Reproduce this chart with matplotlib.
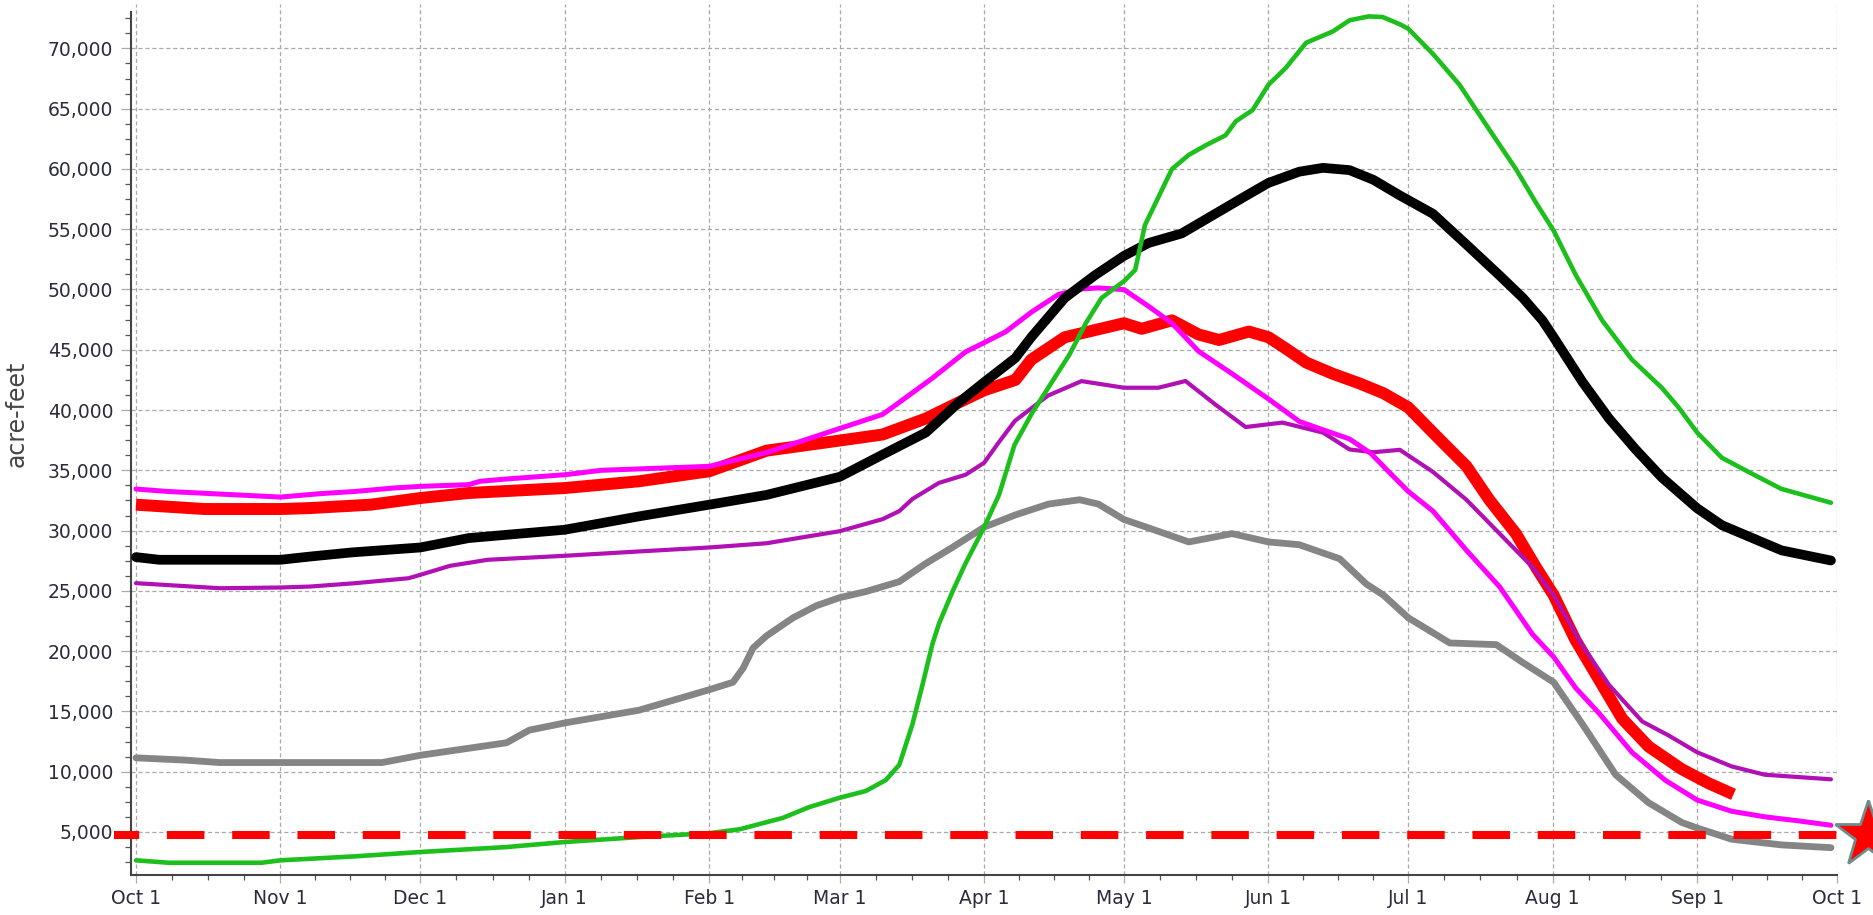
import matplotlib.pyplot as plt
from matplotlib.ticker import FixedLocator, MultipleLocator, FuncFormatter

plt.rcParams['font.family'] = ['DejaVu Sans']
plt.rcParams['lines.scale_dashes'] = False

# x positions are days into the water year (Oct 1 = 0)
month_days = [0, 31, 61, 92, 123, 151, 182, 212, 243, 273, 304, 335, 365]
month_labels = ['Oct 1', 'Nov 1', 'Dec 1', 'Jan 1', 'Feb 1', 'Mar 1', 'Apr 1',
                'May 1', 'Jun 1', 'Jul 1', 'Aug 1', 'Sep 1', 'Oct 1']

green_days = [0, 7, 27, 31, 47, 61, 79.5, 92, 108, 123, 129.6, 138.8, 144.5, 151,
              156.6, 160.9, 163.8, 166.6, 168.8, 170.9, 172.3, 175.2, 178, 182,
              185.2, 188.5, 192.2, 196, 200.3, 203.8, 207.2, 212, 214.4, 216.5,
              219.4, 222.3, 225.9, 229.5, 233.8, 236, 239.6, 243, 246.7, 251.1,
              256.8, 260.4, 264.5, 267.5, 271.2, 273, 278.3, 284, 290.4, 296.1,
              300.4, 304.2, 309, 314.6, 321, 327.4, 331, 335, 340.3, 346, 353, 363.7]
green_vals = [2650, 2450, 2450, 2650, 2980, 3340, 3750, 4170, 4580, 4900, 5230, 6170,
              7070, 7840, 8400, 9310, 10580, 13920, 17260, 20600, 22270, 24940, 27280,
              30290, 32980, 37100, 39700, 42000, 44600, 47200, 49300, 50690, 51620,
              55340, 57670, 59990, 61160, 61950, 62790, 63950, 64880, 66980, 68370,
              70470, 71400, 72330, 72650, 72600, 72000, 71630, 69540, 66980, 63260,
              59990, 57200, 54880, 51160, 47440, 44180, 41850, 40220, 38130, 36040,
              34870, 33470, 32310]

black_days = [0, 5, 31, 37.4, 46.3, 61, 71.4, 92, 107.9, 123, 135.3, 151, 160.2,
              169.5, 176.6, 182, 188.7, 192.1, 199.3, 205.7, 212, 217.3, 224.4,
              231.6, 238.8, 243, 249.6, 254.7, 260.4, 265.5, 271.2, 278.3, 285.5,
              292.6, 297.6, 301.8, 304.2, 310.4, 316.1, 321.8, 327.4, 335, 340.3,
              346, 353.1, 363.7]
black_vals = [27800, 27580, 27580, 27850, 28190, 28600, 29380, 30070, 31180, 32150,
              32960, 34460, 36300, 38140, 40640, 42310, 44320, 46040, 49300, 51160,
              52790, 53860, 54650, 56280, 57910, 58840, 59770, 60090, 59900, 59100,
              57800, 56280, 53720, 51160, 49300, 47440, 46040, 42320, 39290, 36730,
              34410, 31850, 30450, 29520, 28360, 27520]

red_days = [0, 14.7, 31, 37.4, 50.4, 61, 71.4, 92, 107.9, 123, 135.3, 151, 160.2,
            169.5, 176.6, 182, 188.7, 192.1, 199.3, 206.5, 212, 215.8, 222.3, 228,
            232.4, 238.8, 243, 246.7, 251.1, 256.8, 262.6, 267.7, 273, 278.3, 281.9,
            285.5, 290.4, 296.1, 300.4, 304.2, 308.9, 313.9, 318.9, 324.6, 331.7,
            337.4, 342.8]
red_vals = [32150, 31790, 31790, 31870, 32150, 32700, 33120, 33530, 34090, 34920,
            36630, 37470, 37970, 39300, 40640, 41640, 42500, 44180, 46040, 46700,
            47200, 46740, 47440, 46270, 45810, 46510, 46040, 45110, 43940, 43010,
            42200, 41390, 40220, 38130, 36730, 35340, 32550, 29750, 26960, 24640,
            20910, 17660, 14400, 12080, 10210, 9050, 8120]

magenta_days = [0, 6.6, 21.2, 31, 39.4, 47.1, 55.2, 61.1, 71.4, 73.8, 79.5, 92.2,
                99.8, 123, 135.3, 151, 160.2, 163.8, 170.9, 178, 182, 186.6, 192.2,
                198, 203, 206.5, 212, 217.3, 222.3, 228, 235.2, 243, 249.6, 254.7,
                260.4, 265, 268.5, 273, 278.3, 285.5, 292.6, 299.7, 304.2, 308.9,
                313.9, 321, 328.2, 335, 342.4, 349.5, 356.6, 363.7]
magenta_vals = [33450, 33250, 32970, 32780, 33060, 33250, 33530, 33670, 33810, 34090,
                34280, 34640, 35000, 35330, 36470, 38470, 39640, 40640, 42650, 44820,
                45590, 46490, 48140, 49600, 50050, 50130, 49990, 48600, 47200, 44880,
                43010, 40920, 39060, 38360, 37600, 36400, 35000, 33250, 31620, 28360,
                25340, 21380, 19520, 16960, 14870, 11610, 9280, 7650, 6720, 6260,
                5930, 5560]

purple_days = [0, 18, 31, 37.4, 47.1, 58.5, 61, 67.4, 75.5, 92, 107.9, 123, 135.3,
               151, 160.2, 163.8, 166.6, 172.3, 178, 182, 185, 188.6, 195.7, 202.9,
               212, 219.4, 225.2, 231.6, 238.1, 246, 254.7, 260.4, 265.5, 271.2,
               278.3, 285.5, 292.6, 299.7, 304.2, 310.4, 316.1, 323.2, 328.9, 335,
               342.4, 349.5, 363.7]
purple_vals = [25640, 25220, 25280, 25360, 25640, 26050, 26330, 27080, 27580, 27910,
               28270, 28600, 28950, 29950, 30950, 31620, 32620, 33960, 34630, 35630,
               37250, 39100, 41200, 42400, 41850, 41850, 42410, 40460, 38590, 38960,
               38130, 36730, 36500, 36700, 34870, 32550, 29750, 26960, 24640, 20450,
               17190, 14170, 13000, 11610, 10440, 9750, 9370]

gray_days = [0, 10.7, 18, 31, 52.8, 61.1, 79.5, 84.4, 92.2, 107.9, 123, 128.1,
             130.3, 132.4, 135.3, 141, 146, 151, 156.6, 163.8, 169.5, 175.2, 182,
             188.7, 195.8, 202.5, 206.5, 212, 217.3, 225.9, 235.2, 243, 249.6, 258.3,
             264, 267.7, 273, 281.9, 291.9, 297.6, 304.2, 310.4, 317.5, 324.6, 331.7,
             335, 342.4, 353.1, 363.7]
gray_vals = [11150, 10960, 10760, 10760, 10760, 11370, 12400, 13450, 14060, 15100,
             16800, 17420, 18600, 20260, 21270, 22770, 23770, 24440, 24940, 25770,
             27280, 28610, 30290, 31300, 32200, 32560, 32200, 30920, 30220, 29060,
             29750, 29060, 28830, 27660, 25570, 24640, 22770, 20680, 20540, 19050,
             17420, 13930, 9750, 7420, 5790, 5330, 4400, 3930, 3700]

target_level = 4750
target_start = -4.7
star_day = 371.7

fig = plt.figure(figsize=(18.74, 9.15), dpi=100)
ax = fig.add_axes([131 / 1874, 40 / 915, 1706 / 1874, 871 / 915])

series = [
    (red_days, red_vals, '#ff0000', 8.6, 'butt'),
    (gray_days, gray_vals, '#858585', 4.9, 'round'),
    (purple_days, purple_vals, '#b010b4', 3.0, 'round'),
    (magenta_days, magenta_vals, '#ff00ff', 3.6, 'round'),
    (black_days, black_vals, '#000000', 7.0, 'round'),
    (green_days, green_vals, '#1dbf1d', 3.3, 'round'),
]
for z, (d, v, c, w, cap) in enumerate(series):
    ax.plot(d, v, color=c, lw=w, solid_capstyle=cap, solid_joinstyle='round', zorder=3 + z)

# storage target line, runs out past the y axis
ax.plot([target_start, 365], [target_level, target_level], color='#ff0000', lw=5.8,
        linestyle=(8.9, (27.0, 20.0)), dash_capstyle='butt', clip_on=False, zorder=9)
ax.plot([star_day], [target_level], marker='*', ms=50, mfc='#ff0000', mec='#6f8c8c',
        mew=2, clip_on=False, zorder=10)

ax.set_xlim(-1.07, 365)
ax.set_ylim(1433, 73680)

ax.xaxis.set_major_locator(FixedLocator(month_days))
ax.set_xticklabels(month_labels)
minor_x = []
for a, b in zip(month_days[:-1], month_days[1:]):
    minor_x += [a + (b - a) * k / 4 for k in (1, 2, 3)]
ax.xaxis.set_minor_locator(FixedLocator(minor_x))

ax.yaxis.set_major_locator(MultipleLocator(5000))
ax.yaxis.set_minor_locator(MultipleLocator(1250))
ax.yaxis.set_major_formatter(FuncFormatter(lambda v, p: f'{v:,.0f}'))

ax.grid(True, which='major', color='#a9a9a9', linestyle=(0, (3, 2)), linewidth=0.9)
ax.set_axisbelow(True)

ax.tick_params(axis='both', which='major', color='#aaaaaa', labelsize=13.5,
               labelcolor='#2b2b3b')
ax.tick_params(axis='y', which='major', length=7.2, width=0.9, pad=5.5)
ax.tick_params(axis='x', which='major', length=5.8, width=0.9, pad=4)
ax.tick_params(axis='y', which='minor', length=4.3, width=0.9, color='#555555')
ax.tick_params(axis='x', which='minor', length=3.6, width=0.9, color='#555555')

for side in ('top', 'right'):
    ax.spines[side].set_visible(False)
for side in ('left', 'bottom'):
    ax.spines[side].set_color('#444444')
    ax.spines[side].set_linewidth(1.5)
ax.spines['left'].set_bounds(1433, 73000)

ax.set_ylabel('acre-feet', fontsize=17, color='#444444', va='center')
ax.yaxis.set_label_coords(-0.0668, 0.53)

fig.savefig('out.png', dpi=100)
